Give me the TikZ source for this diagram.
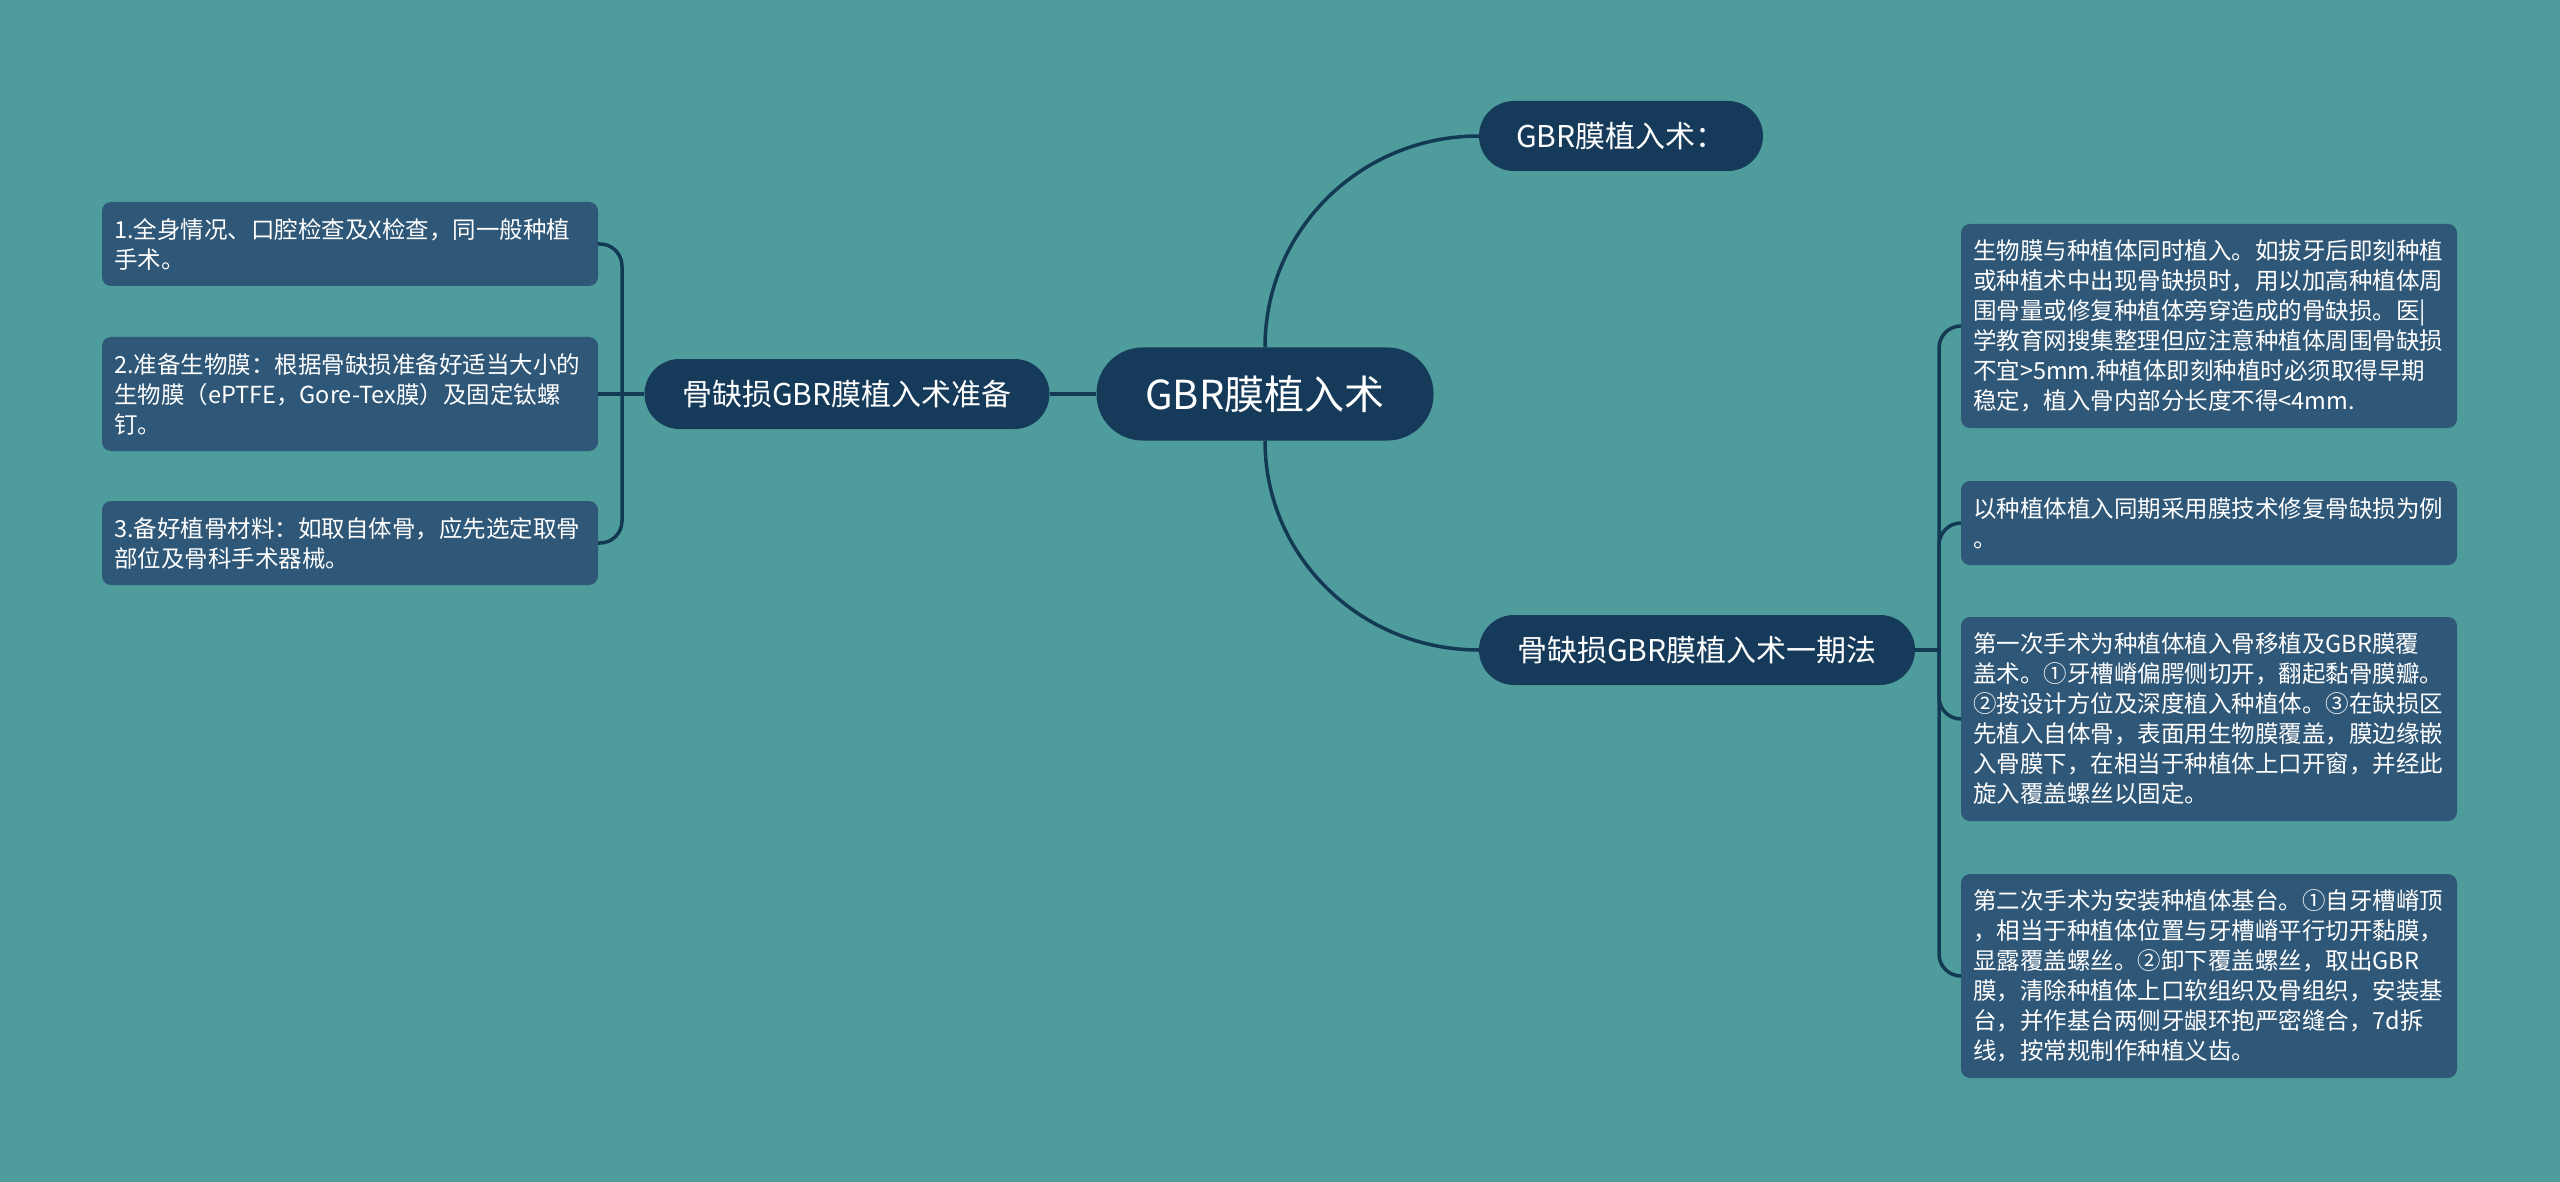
\documentclass[tikz,border=0pt]{standalone}
\usepackage{fontspec}
\setmainfont{Noto Sans CJK SC}

\definecolor{bgteal}{HTML}{4E9C9C}
\definecolor{topicblue}{HTML}{163A5A}
\definecolor{leafblue}{HTML}{2F5777}
\definecolor{linkblue}{HTML}{133955}

\tikzset{
	topic/.style={fill=topicblue, text=white, rounded corners=35pt, minimum height=70pt, inner xsep=0pt, font=\fontsize{30}{36}\selectfont},
	leaf/.style={fill=leafblue, text=white, rounded corners=9pt, text width=472pt, inner xsep=12pt, inner ysep=0pt, align=left, font=\fontsize{23.5}{30}\selectfont},
	link/.style={draw=linkblue, line width=3.5pt}
}

\begin{document}
\begin{tikzpicture}[x=1pt, y=-1pt]
	\fill[bgteal] (0,0) rectangle (2560,1182);
	\useasboundingbox (0,0) rectangle (2560,1182);

	%root
	\node [topic, minimum width=337pt, minimum height=93pt, rounded corners=46pt, font=\fontsize{40}{46}\selectfont] (root) at (1265,394) {GBR膜植入术};

	%topics
	\node [topic, minimum width=284pt] (gbr) at (1621,136) {GBR膜植入术：};
	\node [topic, minimum width=436pt] (stage) at (1697,650) {骨缺损GBR膜植入术一期法};
	\node [topic, minimum width=405pt] (prep) at (847,394) {骨缺损GBR膜植入术准备};

	%preparation
	\node [leaf, minimum height=84pt] (p1) at (350,244) {1.全身情况、口腔检查及X检查，同一般种植\\手术。};
	\node [leaf, minimum height=114pt] (p2) at (350,394) {2.准备生物膜：根据骨缺损准备好适当大小的\\生物膜（ePTFE，Gore-Tex膜）及固定钛螺\\钉。};
	\node [leaf, minimum height=84pt] (p3) at (350,543) {3.备好植骨材料：如取自体骨，应先选定取骨\\部位及骨科手术器械。};

	%one stage method
	\node [leaf, minimum height=204pt] (s1) at (2209,326) {生物膜与种植体同时植入。如拔牙后即刻种植\\或种植术中出现骨缺损时，用以加高种植体周\\围骨量或修复种植体旁穿造成的骨缺损。医|\\学教育网搜集整理但应注意种植体周围骨缺损\\不宜>5mm.种植体即刻种植时必须取得早期\\稳定，植入骨内部分长度不得<4mm.};
	\node [leaf, minimum height=84pt] (s2) at (2209,523) {以种植体植入同期采用膜技术修复骨缺损为例\\。};
	\node [leaf, minimum height=204pt] (s3) at (2209,719) {第一次手术为种植体植入骨移植及GBR膜覆\\盖术。①牙槽嵴偏腭侧切开，翻起黏骨膜瓣。\\②按设计方位及深度植入种植体。③在缺损区\\先植入自体骨，表面用生物膜覆盖，膜边缘嵌\\入骨膜下，在相当于种植体上口开窗，并经此\\旋入覆盖螺丝以固定。};
	\node [leaf, minimum height=204pt] (s4) at (2209,976) {第二次手术为安装种植体基台。①自牙槽嵴顶\\，相当于种植体位置与牙槽嵴平行切开黏膜，\\显露覆盖螺丝。②卸下覆盖螺丝，取出GBR\\膜，清除种植体上口软组织及骨组织，安装基\\台，并作基台两侧牙龈环抱严密缝合，7d拆\\线，按常规制作种植义齿。};

	%root links
	\draw [link] (root.west) -- (prep.east);
	\draw [link] (root.north) to[out=90, in=180] (gbr.west);
	\draw [link] (root.south) to[out=-90, in=180] (stage.west);

	%left bracket
	\coordinate (lb) at (622,394);
	\draw [link] (prep.west) -- (lb) -- (p2.east);
	\draw [link, rounded corners=22pt] (lb) |- (p1.east);
	\draw [link, rounded corners=22pt] (lb) |- (p3.east);

	%right bracket
	\coordinate (rb) at (1939,650);
	\draw [link] (stage.east) -- (rb);
	\foreach \s in {s1,s2,s3,s4}
		\draw [link, rounded corners=22pt] (rb) |- (\s.west);
\end{tikzpicture}
\end{document}
